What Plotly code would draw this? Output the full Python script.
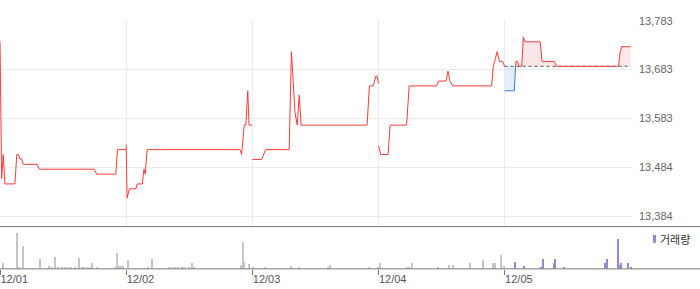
import plotly.graph_objects as go

days = ["12/01", "12/02", "12/03", "12/04", "12/05"]

price_times = [
    "12/01 09:00", "12/01 09:05", "12/01 09:10", "12/01 09:15", "12/01 09:46", "12/01 09:52",
    "12/01 09:57", "12/01 10:02", "12/01 10:07", "12/01 10:12", "12/01 10:55", "12/01 11:01",
    "12/01 13:51", "12/01 13:59", "12/01 14:58", "12/01 15:03", "12/01 15:30",
    "12/02 09:00", "12/02 09:03", "12/02 09:10", "12/02 09:30", "12/02 09:34", "12/02 09:50",
    "12/02 09:55", "12/02 09:59", "12/02 10:05", "12/02 14:52", "12/02 14:57", "12/02 15:05",
    "12/02 15:10", "12/02 15:16", "12/02 15:20", "12/02 15:30",
    "12/03 09:00", "12/03 09:29", "12/03 09:41", "12/03 10:54", "12/03 11:01", "12/03 11:12",
    "12/03 11:19", "12/03 11:25", "12/03 11:31", "12/03 14:55", "12/03 15:02", "12/03 15:14",
    "12/03 15:22", "12/03 15:26", "12/03 15:30",
    "12/04 09:00", "12/04 09:07", "12/04 09:30", "12/04 09:36", "12/04 10:27", "12/04 10:35",
    "12/04 12:00", "12/04 12:06", "12/04 12:29", "12/04 12:35", "12/04 12:41", "12/04 12:50",
    "12/04 14:50", "12/04 14:55", "12/04 15:00", "12/04 15:07", "12/04 15:14", "12/04 15:24",
    "12/04 15:30",
    "12/05 09:00", "12/05 09:30", "12/05 09:35", "12/05 09:40", "12/05 09:45", "12/05 09:53",
    "12/05 09:58", "12/05 10:03", "12/05 10:50", "12/05 10:56", "12/05 11:34", "12/05 11:41",
    "12/05 14:52", "12/05 14:57", "12/05 15:02", "12/05 15:30",
]
prices = [
    13741, 13461, 13510, 13450, 13450, 13510,
    13510, 13501, 13501, 13490, 13490, 13480,
    13480, 13470, 13470, 13520, 13520,
    13530, 13421, 13440, 13440, 13450, 13450,
    13480, 13470, 13520, 13520, 13510, 13570,
    13570, 13640, 13570, 13570,
    13500, 13500, 13520, 13520, 13720, 13595,
    13570, 13631, 13570, 13570, 13650, 13650,
    13670, 13670, 13655,
    13528, 13510, 13510, 13570, 13570, 13650,
    13650, 13660, 13660, 13680, 13660, 13650,
    13650, 13690, 13702, 13720, 13700, 13700,
    13690,
    13640, 13640, 13700, 13700, 13690, 13690,
    13750, 13740, 13740, 13700, 13700, 13690,
    13690, 13718, 13730, 13730,
]
prev_close = 13690

vol_times = [
    "12/01 09:10", "12/01 09:52", "12/01 10:00", "12/01 10:12", "12/01 11:03", "12/01 11:32",
    "12/01 11:42", "12/01 11:51", "12/01 12:00", "12/01 12:13", "12/01 12:22", "12/01 12:31",
    "12/01 12:40", "12/01 12:53", "12/01 13:05", "12/01 13:13", "12/01 13:21", "12/01 13:31",
    "12/01 13:42", "12/01 13:45", "12/01 13:59", "12/01 14:56", "12/01 15:03", "12/01 15:08",
    "12/01 15:14", "12/01 15:19",
    "12/02 09:07", "12/02 10:07", "12/02 10:21", "12/02 11:12", "12/02 11:21", "12/02 11:31",
    "12/02 11:41", "12/02 11:52", "12/02 12:00", "12/02 12:13", "12/02 12:25", "12/02 12:31",
    "12/02 14:56", "12/02 15:02", "12/02 15:05", "12/02 15:21",
    "12/03 09:01", "12/03 09:40", "12/03 11:01", "12/03 11:25", "12/03 12:55", "12/03 13:01",
    "12/03 15:02", "12/03 15:28",
    "12/04 09:06", "12/04 10:29", "12/04 10:35", "12/04 10:45", "12/04 12:05", "12/04 12:39",
    "12/04 12:51", "12/04 13:44", "12/04 14:24", "12/04 14:55", "12/04 15:01", "12/04 15:20",
    "12/04 15:29",
    "12/05 09:33", "12/05 10:01", "12/05 10:53", "12/05 11:00", "12/05 11:32", "12/05 11:35",
    "12/05 12:03", "12/05 14:11", "12/05 14:17", "12/05 14:52", "12/05 14:57", "12/05 15:01",
    "12/05 15:22", "12/05 15:30",
]
volumes = [
    530, 3630, 130, 2330, 930, 230,
    130, 1230, 130, 130, 130, 130,
    130, 130, 1030, 130, 130, 130,
    130, 530, 130, 130, 1630, 230,
    230, 230,
    830, 130, 930, 130, 130, 130,
    130, 130, 130, 130, 530, 130,
    330, 2730, 630, 430,
    130, 130, 230, 130, 130, 330,
    130, 130,
    530, 130, 130, 530, 130, 330,
    330, 530, 830, 530, 530, 1430,
    230,
    630, 230, 130, 930, 530, 930,
    130, 530, 930, 3030, 330, 530,
    530, 130,
]

y_tick_vals = [13384, 13483.75, 13583.5, 13683.25, 13783]
y_tick_text = ["13,384", "13,484", "13,583", "13,683", "13,783"]

# ---------- helpers ----------
W, H = 700, 289
PLOT_R = 632


def to_x(s):
    d, t = s.split()
    h, m = t.split(":")
    return days.index(d) + (int(h) * 60 + int(m) - 540) / 390.0


def py(px):  # pixel y -> paper y (margins t=b=0)
    return 1 - px / H


def pxx(px):  # pixel x -> paper x
    return px / PLOT_R


RED = "#ff3a3a"
BLUE = "#3b79d6"

# days 1-4 line with gaps
hist_x, hist_y = [], []
last_day = None
for t, p in zip(price_times, prices):
    d = t.split()[0]
    if d == days[-1]:
        continue
    if last_day is not None and d != last_day:
        hist_x.append(None)
        hist_y.append(None)
    hist_x.append(to_x(t))
    hist_y.append(p)
    last_day = d

# day 5 with crossing points
pts = [(to_x(t), p) for t, p in zip(price_times, prices) if t.split()[0] == days[-1]]
cx, cy = [], []
for i, (x, p) in enumerate(pts):
    if i > 0:
        x0, p0 = pts[i - 1]
        if (p0 - prev_close) * (p - prev_close) < 0:
            f = (prev_close - p0) / (p - p0)
            cx.append(x0 + f * (x - x0))
            cy.append(prev_close)
    cx.append(x)
    cy.append(p)

upper = [max(v, prev_close) for v in cy]
lower = [min(v, prev_close) for v in cy]
red_y = [v if v >= prev_close else None for v in cy]
blue_y = []
for i, v in enumerate(cy):
    below_nb = (i > 0 and cy[i - 1] < prev_close) or (i < len(cy) - 1 and cy[i + 1] < prev_close)
    blue_y.append(v if (v < prev_close or (v == prev_close and below_nb)) else None)

ref_x = [min(cx), max(cx)]

fig = go.Figure()

# fills
fig.add_trace(go.Scatter(x=cx, y=[prev_close] * len(cx), mode="lines", line=dict(width=0),
                         hoverinfo="skip", showlegend=False))
fig.add_trace(go.Scatter(x=cx, y=upper, mode="lines", line=dict(width=0), fill="tonexty",
                         fillcolor="rgba(252,210,214,0.55)", hoverinfo="skip", showlegend=False))
fig.add_trace(go.Scatter(x=cx, y=[prev_close] * len(cx), mode="lines", line=dict(width=0),
                         hoverinfo="skip", showlegend=False))
fig.add_trace(go.Scatter(x=cx, y=lower, mode="lines", line=dict(width=0), fill="tonexty",
                         fillcolor="rgba(205,222,245,0.55)", hoverinfo="skip", showlegend=False))

# reference dotted line
fig.add_trace(go.Scatter(x=ref_x, y=[prev_close, prev_close], mode="lines",
                         line=dict(color="#555555", width=1, dash="dot"), showlegend=False))

# lines
fig.add_trace(go.Scatter(x=hist_x, y=hist_y, mode="lines", line=dict(color=RED, width=1),
                         connectgaps=False, showlegend=False))
fig.add_trace(go.Scatter(x=cx, y=red_y, mode="lines", line=dict(color=RED, width=1),
                         connectgaps=False, showlegend=False))
fig.add_trace(go.Scatter(x=cx, y=blue_y, mode="lines", line=dict(color=BLUE, width=1),
                         connectgaps=False, showlegend=False))

# volume
vx = [to_x(t) for t in vol_times]
vcol = ["#9a86c8" if t.split()[0] == days[-1] else "#c5c6cc" for t in vol_times]
fig.add_trace(go.Bar(x=vx, y=volumes, width=1.0 / 126.15, marker=dict(color=vcol, line=dict(width=0)),
                     xaxis="x2", yaxis="y2", showlegend=False))

px_per_val = 199 / 399.0
y_bot = 13384 - (226 - 215) / px_per_val
y_top = 13783 + 1.0 / px_per_val

fig.update_layout(
    width=W, height=H,
    margin=dict(l=0, r=W - PLOT_R, t=0, b=0),
    paper_bgcolor="white", plot_bgcolor="white",
    showlegend=False,
    bargap=0,
    xaxis=dict(range=[0, 5.01], domain=[0, 1], anchor="y", tickvals=[1, 2, 3, 4],
               showticklabels=False, showgrid=True, gridcolor="#ebebeb", gridwidth=1,
               zeroline=False, showline=False, ticks=""),
    yaxis=dict(domain=[py(226), py(15)], range=[y_bot, y_top], side="right",
               tickvals=y_tick_vals, ticktext=y_tick_text, showgrid=True, gridcolor="#ebebeb",
               zeroline=False, showline=False, ticks="", ticklabelstandoff=6,
               tickfont=dict(family="Liberation Sans, Arial, sans-serif", size=11, color="#666666")),
    xaxis2=dict(range=[0, 5.01], domain=[0, 1], anchor="y2", tickvals=[0, 1, 2, 3, 4],
                ticktext=days, ticks="outside", ticklen=5, tickcolor="#777777", tickwidth=1,
                ticklabelposition="outside right", showgrid=False, zeroline=False, showline=False,
                tickfont=dict(family="Liberation Sans, Arial, sans-serif", size=11, color="#555555")),
    yaxis2=dict(domain=[py(268.3), py(228)], range=[0, 4030], visible=False),
    shapes=[
        dict(type="line", xref="paper", yref="paper", x0=0, x1=W / PLOT_R, y0=py(225.5), y1=py(225.5),
             line=dict(color="#7a7a7a", width=1)),
        dict(type="line", xref="paper", yref="paper", x0=0, x1=W / PLOT_R, y0=py(268.5), y1=py(268.5),
             line=dict(color="#7a7a7a", width=1)),
        dict(type="rect", xref="paper", yref="paper", x0=pxx(653), x1=pxx(656), y0=py(242), y1=py(234),
             fillcolor="#9a86c8", line=dict(width=0)),
    ],
    annotations=[
        dict(text="거래량", xref="paper", yref="paper", x=pxx(658), y=py(238), xanchor="left",
             yanchor="middle", showarrow=False,
             font=dict(family="Noto Sans CJK KR, sans-serif", size=11, color="#333333")),
    ],
)

fig.write_html("out.html")
